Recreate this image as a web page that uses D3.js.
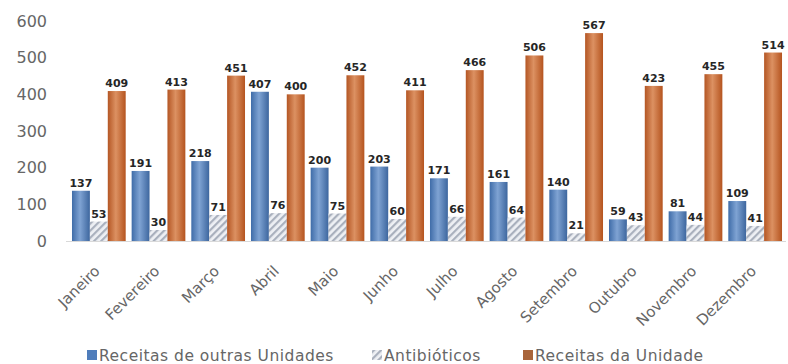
<!DOCTYPE html>
<html><head><meta charset="utf-8">
<script src="https://cdn.jsdelivr.net/npm/d3@7"></script>
<style>body{margin:0;background:#fff}svg{display:block}</style>
</head><body><svg id="c" width="788" height="364"></svg>
<script>
const months = ["Janeiro","Fevereiro","Março","Abril","Maio","Junho","Julho","Agosto","Setembro","Outubro","Novembro","Dezembro"];
const seriesNames = ["Receitas de outras Unidades","Antibióticos","Receitas da Unidade"];
const outrasUnidades = [137,191,218,407,200,203,171,161,140,59,81,109];
const antibioticos = [53,30,71,76,75,60,66,64,21,43,44,41];
const daUnidade = [409,413,451,400,452,411,466,506,567,423,455,514];
const yTicks = [0,100,200,300,400,500,600];

const series = [outrasUnidades, antibioticos, daUnidade];
const svg = d3.select("#c");
const font = "'DejaVu Sans', Verdana, sans-serif";
const defs = svg.append("defs");

function grad(id, c0, c1, c2){
  const g = defs.append("linearGradient").attr("id", id).attr("x1","0").attr("x2","1").attr("y1","0").attr("y2","0");
  g.append("stop").attr("offset","0").attr("stop-color", c0);
  g.append("stop").attr("offset","0.45").attr("stop-color", c1);
  g.append("stop").attr("offset","1").attr("stop-color", c2);
}
grad("gBlue", "#3f6ca8", "#7fa3d3", "#3d669e");
grad("gOrange", "#b45624", "#dc9162", "#b5541f");
const pat = defs.append("pattern").attr("id","pGrey").attr("patternUnits","userSpaceOnUse")
  .attr("width",5).attr("height",5).attr("patternTransform","rotate(45)");
pat.append("rect").attr("width",5).attr("height",5).attr("fill","#eef0f4");
pat.append("rect").attr("width",2.2).attr("height",5).attr("fill","#a9b0bd");
const fills = ["url(#gBlue)","url(#pGrey)","url(#gOrange)"];
const legendFills = ["#4f7dbb","#b9bec8","#a8643a"];

const x = d3.scaleBand().domain(months).range([69,785]).paddingInner(0.1).paddingOuter(0.05);
const xs = d3.scaleBand().domain(d3.range(3)).range([0, x.bandwidth()]);
const y = d3.scaleLinear().domain([0,600]).range([241,21]);

// y axis labels
const yAxis = svg.append("g").attr("transform","translate(47,0)")
  .call(d3.axisLeft(y).tickValues(yTicks).tickSize(0).tickPadding(0));
yAxis.select(".domain").remove();
yAxis.selectAll("text").attr("font-family",font).attr("font-size",16).attr("fill","#666");

// bars
months.forEach((m,i)=>{
  const g = svg.append("g").attr("transform",`translate(${x(m)},0)`);
  series.forEach((s,k)=>{
    g.append("rect").attr("x", xs(k)).attr("width", xs.bandwidth())
      .attr("y", y(s[i])).attr("height", y(0)-y(s[i])).attr("fill", fills[k]);
  });
  series.forEach((s,k)=>{
    g.append("text").attr("x", xs(k)+xs.bandwidth()/2).attr("y", y(s[i])-4)
      .attr("text-anchor","middle").attr("font-family",font).attr("font-size",11)
      .attr("font-weight","bold").attr("fill","#262626").text(s[i]);
  });
});

// baseline
svg.append("line").attr("x1",66).attr("x2",786).attr("y1",y(0)+0.5).attr("y2",y(0)+0.5)
  .attr("stroke","#d9d9d9").attr("stroke-width",1);

// x axis labels
const xAxis = svg.append("g").attr("transform",`translate(0,${y(0)})`)
  .call(d3.axisBottom(x).tickSize(0).tickPadding(0));
xAxis.select(".domain").remove();
xAxis.selectAll("text").attr("font-family",font).attr("font-size",15).attr("fill","#666")
  .attr("text-anchor","end").attr("dy",0)
  .attr("transform","translate(2,31) rotate(-45)");

// legend
const leg = svg.append("g").attr("transform","translate(0,355)");
const legX = [87, 372, 523];
seriesNames.forEach((n,k)=>{
  leg.append("rect").attr("x",legX[k]).attr("y",-5).attr("width",10).attr("height",10)
    .attr("fill", k===1 ? "url(#pGrey)" : legendFills[k]);
  leg.append("text").attr("x",legX[k]+12).attr("y",6).attr("font-family",font).attr("font-size",15.5)
    .attr("letter-spacing",0.5).attr("fill","#666").text(n);
});
</script></body></html>
